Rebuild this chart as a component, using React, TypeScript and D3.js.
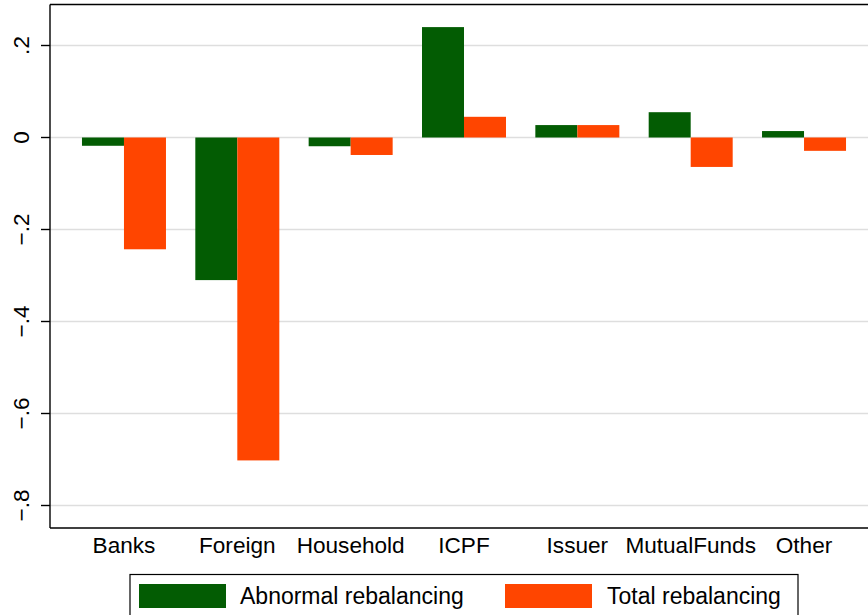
import * as d3 from 'd3';
import React from 'react';

const categories = ['Banks', 'Foreign', 'Household', 'ICPF', 'Issuer', 'MutualFunds', 'Other'];
const seriesNames = ['Abnormal rebalancing', 'Total rebalancing'];
const abnormal = [-0.018, -0.31, -0.019, 0.24, 0.027, 0.055, 0.014];
const total = [-0.243, -0.702, -0.038, 0.045, 0.027, -0.064, -0.029];
const yTicks = [0.2, 0, -0.2, -0.4, -0.6, -0.8];
const yTickLabels = ['.2', '0', '\u2212.2', '\u2212.4', '\u2212.6', '\u2212.8'];
const colors = ['#035c03', '#ff4500'];

const W = 868;
const H = 615;
const font = '"Liberation Sans", Arial, Helvetica, sans-serif';

export default function App() {
  const plotLeft = 50;
  const plotTop = 4.5;
  const plotBottom = 528;

  const y = d3.scaleLinear().domain([0.2, -0.8]).range([45.5, 505.5]);
  const x = d3.scaleBand<string>().domain(categories).range([67.3, 860.7]).padding(0);
  const inner = d3.scaleBand<string>().domain(seriesNames).range([-42, 42]).padding(0);

  const series = [abnormal, total];

  return (
    <svg width={W} height={H} style={{ position: 'absolute', left: 0, top: 0, display: 'block', background: '#fff' }}
      fontFamily={font}>
      <rect x={0} y={0} width={W} height={H} fill="#fff" />
      {/* gridlines */}
      {yTicks.map((t, i) => (
        <line key={'g' + i} x1={plotLeft} x2={W} y1={y(t)} y2={y(t)} stroke="#dedede" strokeWidth={1.6} />
      ))}
      {/* bars */}
      {series.map((vals, s) =>
        categories.map((c, i) => {
          const cx = (x(c) as number) + x.bandwidth() / 2;
          const bx = cx + (inner(seriesNames[s]) as number);
          const v = vals[i];
          const y0 = y(Math.max(0, v));
          const y1 = y(Math.min(0, v));
          return (
            <rect key={s + '-' + c} x={bx} y={y0} width={inner.bandwidth()} height={y1 - y0} fill={colors[s]} />
          );
        })
      )}
      {/* frame */}
      <line x1={plotLeft} x2={W} y1={plotTop} y2={plotTop} stroke="#000" strokeWidth={1.4} />
      <line x1={plotLeft} x2={W} y1={plotBottom} y2={plotBottom} stroke="#000" strokeWidth={1.4} />
      <line x1={plotLeft} x2={plotLeft} y1={plotTop} y2={plotBottom} stroke="#000" strokeWidth={1.4} />
      {/* y ticks */}
      {yTicks.map((t, i) => (
        <g key={'t' + i}>
          <line x1={41} x2={plotLeft} y1={y(t)} y2={y(t)} stroke="#000" strokeWidth={1.4} />
          <text transform={`translate(28.5,${y(t)}) rotate(-90)`} textAnchor="middle" fontSize={22.5} fill="#000">
            {yTickLabels[i]}
          </text>
        </g>
      ))}
      {/* x labels */}
      {categories.map(c => (
        <text key={'x' + c} x={(x(c) as number) + x.bandwidth() / 2} y={553} textAnchor="middle" fontSize={22.6} fill="#000">
          {c}
        </text>
      ))}
      {/* legend */}
      <rect x={130} y={574.5} width={668} height={60} fill="#fff" stroke="#000" strokeWidth={1.2} />
      <rect x={139} y={584} width={87} height={24} fill={colors[0]} />
      <text x={240} y={604} fontSize={23} fill="#000">{seriesNames[0]}</text>
      <rect x={505} y={584} width={87} height={24} fill={colors[1]} />
      <text x={607} y={604} fontSize={23} fill="#000">{seriesNames[1]}</text>
    </svg>
  );
}
